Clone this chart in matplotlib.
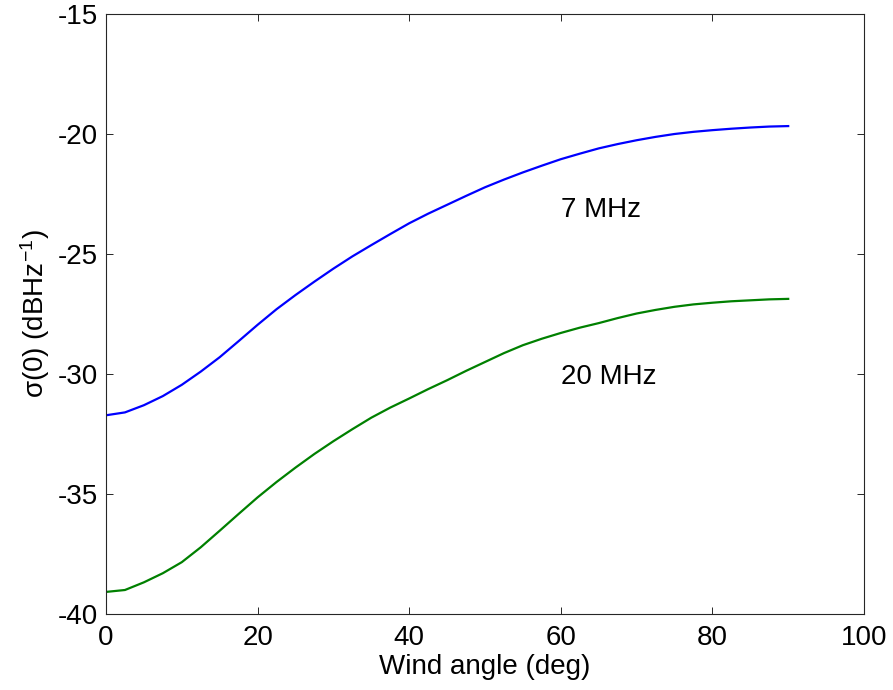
import matplotlib
matplotlib.use("Agg")
import matplotlib.pyplot as plt

plt.rcParams['font.family'] = ['Liberation Sans', 'DejaVu Sans']
plt.rcParams['mathtext.fontset'] = 'custom'
plt.rcParams['mathtext.rm'] = 'Liberation Sans'
plt.rcParams['mathtext.it'] = 'Liberation Sans'
plt.rcParams['mathtext.default'] = 'regular'
plt.rcParams['axes.unicode_minus'] = False

# Data
wind_angle = [0, 2.5, 5, 7.5, 10, 12.5, 15, 17.5, 20, 22.5, 25, 27.5, 30, 32.5, 35, 37.5, 40,
              42.5, 45, 47.5, 50, 52.5, 55, 57.5, 60, 62.5, 65, 67.5, 70, 72.5, 75, 77.5, 80,
              82.5, 85, 87.5, 90]
sigma_7mhz = [-31.72, -31.60, -31.30, -30.92, -30.45, -29.90, -29.30, -28.63, -27.95, -27.30,
              -26.71, -26.15, -25.61, -25.10, -24.63, -24.17, -23.72, -23.32, -22.95, -22.58,
              -22.22, -21.90, -21.60, -21.32, -21.05, -20.82, -20.60, -20.42, -20.26, -20.12,
              -20.00, -19.91, -19.84, -19.78, -19.73, -19.69, -19.67]
sigma_20mhz = [-39.08, -39.00, -38.68, -38.30, -37.84, -37.22, -36.53, -35.83, -35.14, -34.50,
               -33.90, -33.33, -32.80, -32.30, -31.82, -31.40, -31.02, -30.63, -30.26, -29.87,
               -29.50, -29.13, -28.80, -28.53, -28.29, -28.07, -27.88, -27.67, -27.48, -27.33,
               -27.20, -27.10, -27.03, -26.97, -26.93, -26.89, -26.87]
labels = ["7 MHz", "20 MHz"]
label_pos = [(60, -23.45), (60, -30.42)]

xticks = [0, 20, 40, 60, 80, 100]
yticks = [-40, -35, -30, -25, -20, -15]

fig = plt.figure(figsize=(8.93, 6.90), dpi=100)
ax = fig.add_axes([106/893, 1-614/690, (864-106)/893, (614-14)/690])

ax.plot(wind_angle, sigma_7mhz, color=(0, 0, 1), lw=1.6)
ax.plot(wind_angle, sigma_20mhz, color=(0, 0.5, 0), lw=1.6)

for t, (x, y) in zip(labels, label_pos):
    ax.text(x, y, t, fontsize=20, ha='left', va='baseline')

ax.set_xlim(0, 100)
ax.set_ylim(-40, -15)
ax.set_xticks(xticks)
ax.set_yticks(yticks)
ax.tick_params(direction='in', length=5, width=0.7, top=True, right=True,
               labelsize=20, color='#262626')
ax.tick_params(axis='x', pad=8)
ax.tick_params(axis='y', pad=6)
for s in ax.spines.values():
    s.set_linewidth(0.8)
    s.set_color('#262626')

ax.set_xlabel("Wind angle (deg)", fontsize=20, labelpad=2)
ax.set_ylabel(r"σ(0) (dBHz$^{-1}$)", fontsize=20, labelpad=4)

fig.savefig("out.png", dpi=100)
